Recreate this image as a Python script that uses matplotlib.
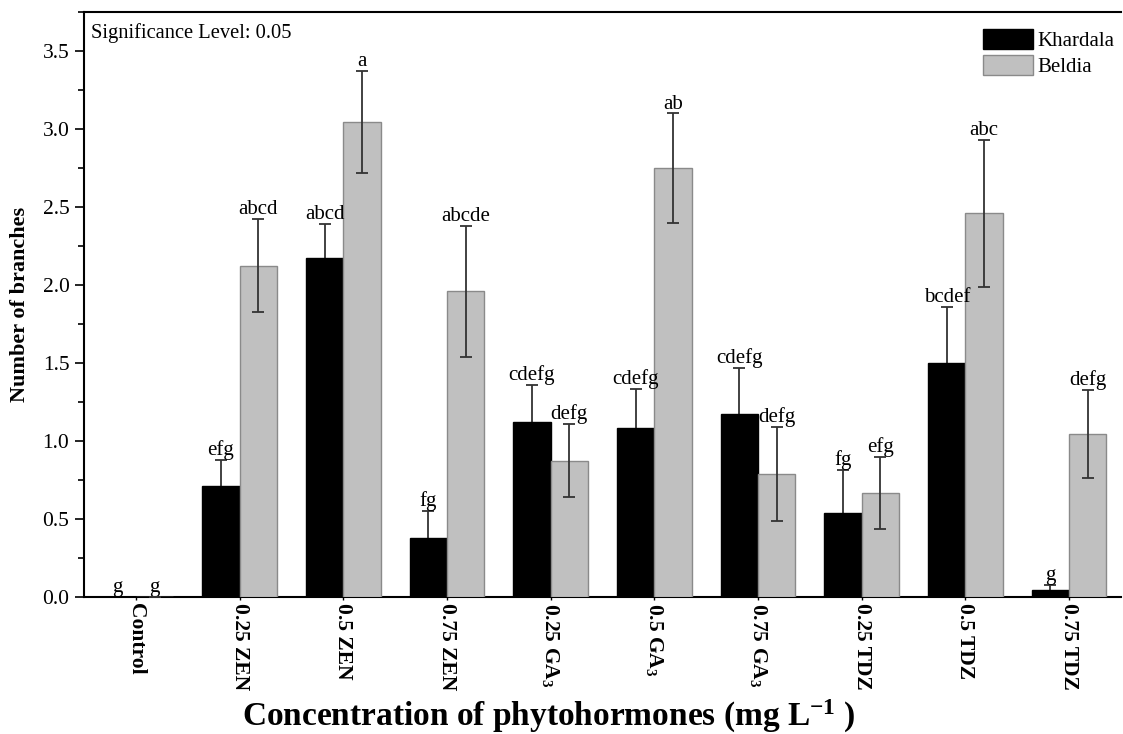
import numpy as np
from matplotlib import pyplot as plt

plt.rcParams['font.family'] = ['Liberation Serif', 'DejaVu Serif']
plt.rcParams['mathtext.default'] = 'regular'

# treatments and measured values (number of branches)
treatments = ["Control", "0.25 ZEN", "0.5 ZEN", "0.75 ZEN",
              "0.25 GA$_3$", "0.5 GA$_3$", "0.75 GA$_3$",
              "0.25 TDZ", "0.5 TDZ", "0.75 TDZ"]
khardala = [0.0, 0.71, 2.17, 0.38, 1.125, 1.085, 1.17, 0.54, 1.50, 0.045]
khardala_err = [0.0, 0.17, 0.22, 0.17, 0.235, 0.25, 0.30, 0.275, 0.36, 0.035]
beldia = [0.0, 2.125, 3.045, 1.96, 0.875, 2.75, 0.79, 0.668, 2.46, 1.045]
beldia_err = [0.0, 0.30, 0.33, 0.42, 0.235, 0.35, 0.30, 0.23, 0.47, 0.285]
khardala_sig = ["g", "efg", "abcd", "fg", "cdefg", "cdefg", "cdefg", "fg", "bcdef", "g"]
beldia_sig = ["g", "abcd", "a", "abcde", "defg", "ab", "defg", "efg", "abc", "defg"]

fig = plt.figure(figsize=(11.23, 7.34), dpi=100)
ax = fig.add_axes([84/1123, 1-597/734, (1121-84)/1123, (597-12)/734])

x = np.arange(len(treatments))
w = 0.36
err_kw = dict(ecolor="#333333", elinewidth=1.3, capsize=4.5, capthick=1.3)
# black bars drawn over their error bars, so only the upper half shows
ax.errorbar(x - w/2, khardala, yerr=khardala_err, fmt="none", zorder=2, **err_kw)
ax.bar(x - w/2, khardala, w, color="black", edgecolor="black", linewidth=1,
       zorder=3, label="Khardala")
ax.bar(x + w/2, beldia, w, color="#c0c0c0", edgecolor="#8a8a8a", linewidth=1,
       yerr=beldia_err, error_kw=err_kw, zorder=3, label="Beldia")

# significance letters
for i in range(len(x)):
    ax.annotate(khardala_sig[i], (x[i] - w/2, khardala[i] + khardala_err[i]),
                xytext=(0, 3.5), textcoords="offset points",
                ha="center", va="baseline", fontsize=15)
    ax.annotate(beldia_sig[i], (x[i] + w/2, beldia[i] + beldia_err[i]),
                xytext=(0, 3.5), textcoords="offset points",
                ha="center", va="baseline", fontsize=15)

ax.set_xlim(-0.5, 9.5)
ax.set_ylim(0, 3.75)
ax.set_yticks(np.arange(0, 3.51, 0.5))
ax.set_yticks(np.arange(0.25, 3.76, 0.5), minor=True)
ax.set_yticklabels(["%.1f" % v for v in np.arange(0, 3.51, 0.5)], fontsize=15.5)
ax.set_xticks(x)
ax.set_xticklabels(treatments, rotation=270, fontsize=15.5, fontweight="bold",
                   ha="center", va="top")
ax.tick_params(axis="y", which="major", direction="out", length=6.5, width=1.2, pad=4)
ax.tick_params(axis="y", which="minor", direction="out", length=4.3, width=1.2)
ax.tick_params(axis="x", direction="out", length=2.5, width=1, pad=2)

for s in ["left", "bottom", "top"]:
    ax.spines[s].set_linewidth(1.5)
ax.spines["right"].set_visible(False)

ax.text(0.007, 0.964, "Significance Level: 0.05", transform=ax.transAxes,
        fontsize=14.8, ha="left", va="center")

fig.text(20/1123, 1-304/734, "Number of branches", rotation=90, fontsize=16,
         fontweight="bold", ha="center", va="center")
fig.text(549/1123, 1-716/734, "Concentration of phytohormones (mg L$^{-1}$ )",
         fontsize=24, fontweight="bold", ha="center", va="center")

ax.legend(loc="upper left", bbox_to_anchor=(983/1123, 1-29/734),
          bbox_transform=fig.transFigure, frameon=False, fontsize=15,
          handlelength=2.4, handleheight=1.1, labelspacing=0.2,
          handletextpad=0.2, borderpad=0, borderaxespad=0)

plt.savefig("out.png", dpi=100)
